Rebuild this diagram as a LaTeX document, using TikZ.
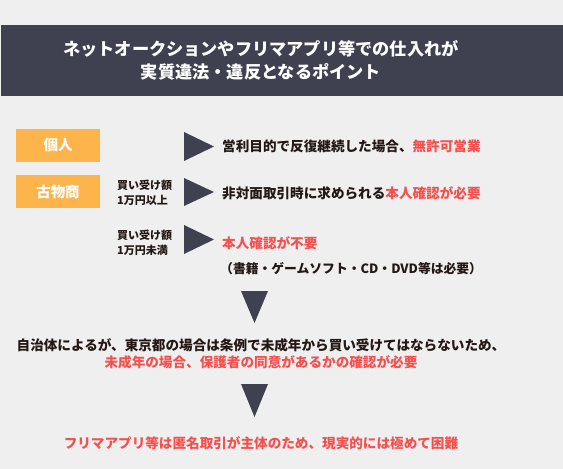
\documentclass[tikz,border=0pt]{standalone}
\usepackage{fontspec}
\setmainfont{Noto Sans CJK JP}
\definecolor{bg}{HTML}{EFEFEF}
\definecolor{hdr}{HTML}{3F4150}
\definecolor{org}{HTML}{FDB54B}
\definecolor{redt}{HTML}{F5504E}
\definecolor{txt}{HTML}{231815}
\tikzset{
  titletext/.style={inner sep=0pt, text=white, font=\fontsize{17.2}{23}\selectfont\bfseries},
  obox/.style={fill=org, minimum width=84pt, minimum height=33pt, inner sep=0pt, text=white, font=\fontsize{14.5}{16}\selectfont\bfseries},
  body/.style={inner sep=0pt, text=txt, font=\fontsize{13.6}{16}\selectfont\bfseries},
  small/.style={inner sep=0pt, text=txt, align=left, font=\fontsize{11}{15}\selectfont\bfseries},
  note/.style={inner sep=0pt, text=txt, font=\fontsize{12.8}{16}\selectfont\bfseries},
  tri/.style={fill=hdr}
}
\begin{document}
\begin{tikzpicture}[x=1pt,y=-1pt]
\fill[bg] (0,0) rectangle (563,469);
\useasboundingbox (0,0) rectangle (563,469);
\fill[hdr] (1,25) rectangle (563,96);
\node[titletext] (t1) at (261,49) {ネットオークションやフリマアプリ等での仕入れが};
\node[titletext] (t2) at (261,72) {実質違法・違反となるポイント};

\node[obox] (kojin) at (58,145.5) {個人};
\node[obox] (kobutsu) at (58,191.5) {古物商};

\fill[tri] (184,132) -- (214,146.5) -- (184,161) -- cycle;
\fill[tri] (184,178) -- (214,192) -- (184,206) -- cycle;
\fill[tri] (184,225) -- (214,239.5) -- (184,254) -- cycle;

\node[small, anchor=west] (l1) at (117,192.5) {買い受け額\\1万円以上};
\node[small, anchor=west] (l2) at (117,242.5) {買い受け額\\1万円未満};

\node[body, anchor=west] (r1) at (222,146) {営利目的で反復継続した場合、{\color{redt}無許可営業}};
\node[body, anchor=west] (r2) at (222,193) {非対面取引時に求められる{\color{redt}本人確認が必要}};
\node[body, anchor=west, text=redt] (r3) at (222,243) {本人確認が不要};
\node[note, anchor=west] (r4) at (220,269) {（書籍・ゲームソフト・CD・DVD等は必要）};

\fill[tri] (241,291) -- (268,291) -- (254.5,323) -- cycle;
\node[body] (m1) at (261,345) {自治体によるが、東京都の場合は条例で未成年から買い受けてはならないため、};
\node[body, text=redt] (m2) at (261,362) {未成年の場合、保護者の同意があるかの確認が必要};
\fill[tri] (241,384) -- (268,384) -- (254.5,417) -- cycle;
\node[body, text=redt] (f1) at (261,443) {フリマアプリ等は匿名取引が主体のため、現実的には極めて困難};
\end{tikzpicture}
\end{document}
